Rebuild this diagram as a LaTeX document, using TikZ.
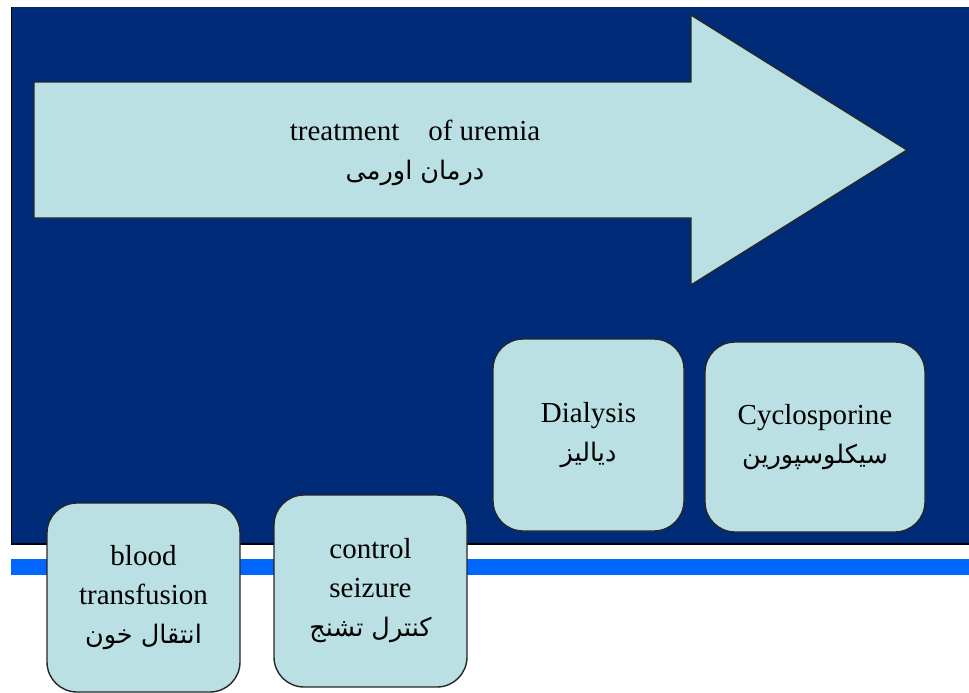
\documentclass[tikz,border=0pt]{standalone}
\usepackage{fontspec}
\setmainfont{Liberation Serif}
\newfontfamily\arabicfont[Script=Arabic]{DejaVu Sans}
\TeXXeTstate=1
\definecolor{navy}{HTML}{002B78}
\definecolor{lightfill}{HTML}{BBE0E3}
\definecolor{stripe}{HTML}{0066FF}
\newcommand{\fa}[1]{{\arabicfont\fontsize{25.5}{37}\selectfont\beginR #1\endR}}
\begin{document}
\begin{tikzpicture}[x=1pt,y=-1pt,
  boxstyle/.style={draw=black!85, line width=1.4pt, fill=lightfill, rounded corners=30pt,
    align=center, inner sep=0pt, font=\fontsize{29}{39}\selectfont},
  labelstyle/.style={align=center, inner sep=0pt, font=\fontsize{29}{39}\selectfont}]
\useasboundingbox (0,0) rectangle (969,693);
\fill[white] (0,0) rectangle (969,693);
% navy background
\fill[navy] (11,7) rectangle (969,544);
\draw[black, line width=1.5pt] (11.5,7) -- (11.5,544) -- (969,544);
% blue stripe
\fill[stripe] (11,559) rectangle (969,575);
% arrow
\draw[fill=lightfill, draw=black!85, line width=1.4pt, line join=miter]
  (34,82) -- (691,82) -- (691,15) -- (907,150) -- (691,285) -- (691,218) -- (34,218) -- cycle;
\node[labelstyle] (title) at (415,153) {treatment~~~ of uremia\\\fa{درمان اورمی}};
% boxes
\node[boxstyle, minimum width=191pt, minimum height=192pt] (dial) at (588.5,435) {Dialysis\\\fa{دیالیز}};
\node[boxstyle, minimum width=220pt, minimum height=190pt] (cyclo) at (815,437) {Cyclosporine\\\fa{سیکلوسپورین}};
\node[boxstyle, minimum width=193pt, minimum height=189pt] (blood) at (143.5,597.5) {blood\\transfusion\\\fa{انتقال خون}};
\node[boxstyle, minimum width=193pt, minimum height=192pt] (seiz) at (370.5,591) {control\\seizure\\\fa{کنترل تشنج}};
\end{tikzpicture}
\end{document}
